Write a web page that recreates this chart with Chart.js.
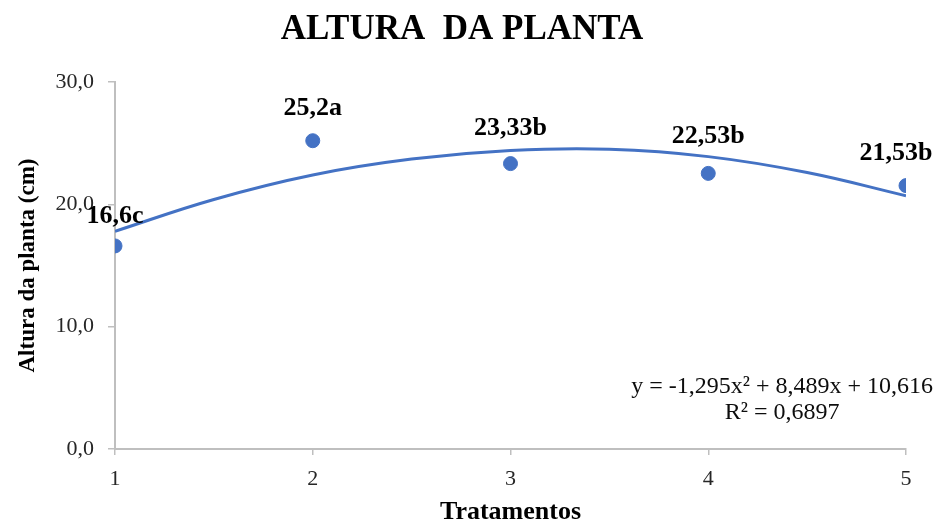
<html>
<head>
<meta charset="UTF-8" />
<script src="https://cdn.jsdelivr.net/npm/chart.js@4.4.0/dist/chart.umd.min.js"></script>
<style>
  body { margin: 0; background: #fff; }
  #wrap { width: 937px; height: 525px; }
</style>
</head>
<body>
<div id="wrap"><canvas id="altura" width="937" height="525"></canvas></div>
<script>
// dados observados
var tratamentos = [1, 2, 3, 4, 5];
var altura = [16.6, 25.2, 23.33, 22.53, 21.53];
var rotulos = ['16,6c', '25,2a', '23,33b', '22,53b', '21,53b'];
// linha de tendencia
var tendX = [1, 1.5, 2, 2.5, 3, 3.5, 4, 4.5, 5];
var tendY = [17.8, 20.4, 22.4, 23.7, 24.4, 24.5, 23.9, 22.6, 20.7];
var yTicks = [0, 10, 20, 30];
var equacao = 'y = -1,295x² + 8,489x + 10,616';
var r2 = 'R² = 0,6897';

// deslocamento dos rotulos em px
var rotuloDx = [0, 0, 0, 0, -10];
var rotuloDy = [-30, -32, -35, -37, -32];

var serif = "'Liberation Serif', 'Times New Roman', serif";
var azul = '#4472C4';
var cinza = '#bfbfbf';

var rotulosPlugin = {
  id: 'rotulos',
  afterDatasetsDraw: function(chart) {
    var ctx = chart.ctx;
    var xs = chart.scales.x, ys = chart.scales.y;
    ctx.save();
    ctx.font = 'bold 26px ' + serif;
    ctx.fillStyle = '#000';
    ctx.textAlign = 'center';
    ctx.textBaseline = 'middle';
    for (var i = 0; i < altura.length; i++) {
      ctx.fillText(rotulos[i], xs.getPixelForValue(tratamentos[i]) + rotuloDx[i], ys.getPixelForValue(altura[i]) + rotuloDy[i]);
    }
    var a = chart.chartArea;
    ctx.font = '24px ' + serif;
    ctx.fillStyle = '#0d0d0d';
    ctx.textAlign = 'right';
    ctx.fillText(equacao, a.right + 27, a.bottom - 62);
    ctx.textAlign = 'center';
    var w = ctx.measureText(equacao).width;
    ctx.fillText(r2, a.right + 27 - w / 2, a.bottom - 36);
    ctx.restore();
  }
};

new Chart(document.getElementById('altura'), {
  type: 'scatter',
  data: {
    datasets: [{
      label: 'Tendência',
      type: 'line',
      data: tendX.map(function(x, i) { return { x: x, y: tendY[i] }; }),
      borderColor: azul,
      borderWidth: 3,
      pointRadius: 0,
      tension: 0.4,
      fill: false,
      order: 2
    }, {
      label: 'Altura da planta',
      data: tratamentos.map(function(x, i) { return { x: x, y: altura[i] }; }),
      backgroundColor: azul,
      borderColor: azul,
      pointRadius: 7,
      order: 1
    }]
  },
  options: {
    responsive: false,
    animation: false,
    layout: { padding: { left: 18, right: 31, top: 0, bottom: 0 } },
    plugins: {
      legend: { display: false },
      tooltip: { enabled: false },
      title: {
        display: true,
        text: 'ALTURA  DA PLANTA',
        color: '#000',
        font: { family: serif, size: 35, weight: 'bold', lineHeight: 1.2 },
        padding: { top: 8.5, bottom: 31.5 }
      }
    },
    scales: {
      x: {
        type: 'linear',
        min: 1, max: 5,
        afterFit: function(s) { s.height = 76; },
        afterBuildTicks: function(s) { s.ticks = tratamentos.map(function(v) { return { value: v }; }); },
        grid: { display: true, drawOnChartArea: false, drawTicks: true, tickLength: 6, color: cinza, lineWidth: 1.5 },
        border: { display: true, color: cinza, width: 2 },
        ticks: { color: '#262626', padding: 11, font: { family: serif, size: 22 }, callback: function(v) { return String(v); } },
        title: { display: true, text: 'Tratamentos', color: '#000', font: { family: serif, size: 26, weight: 'bold', lineHeight: 1 }, padding: 0 }
      },
      y: {
        min: 0, max: 30,
        afterFit: function(s) { s.width = 97; },
        afterBuildTicks: function(s) { s.ticks = yTicks.map(function(v) { return { value: v }; }); },
        grid: { display: true, drawOnChartArea: false, drawTicks: true, tickLength: 7, color: cinza, lineWidth: 1.5 },
        border: { display: true, color: cinza, width: 2 },
        ticks: { color: '#262626', padding: 14, font: { family: serif, size: 22 }, callback: function(v) { return v.toFixed(1).replace('.', ','); } },
        title: { display: true, text: 'Altura da planta (cm)', color: '#000', font: { family: serif, size: 23, weight: 'bold', lineHeight: 1 }, padding: { top: -1.5, bottom: 0 } }
      }
    }
  },
  plugins: [rotulosPlugin]
});
</script>
</body>
</html>
